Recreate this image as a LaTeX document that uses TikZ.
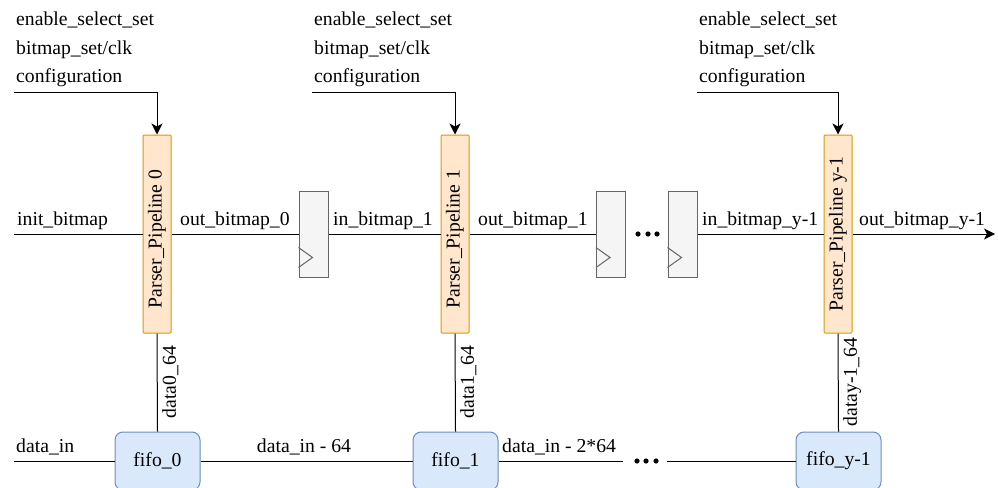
\documentclass[tikz,border=0pt]{standalone}
\usepackage{fontspec}
\setmainfont{Liberation Serif}
\usetikzlibrary{arrows.meta,calc}
\definecolor{pipefill}{HTML}{FFE6CC}
\definecolor{pipedraw}{HTML}{D79B00}
\definecolor{fifofill}{HTML}{DAE8FC}
\definecolor{fifodraw}{HTML}{6C8EBF}
\definecolor{regfill}{HTML}{F5F5F5}
\definecolor{regdraw}{HTML}{666666}
\begin{document}
\begin{tikzpicture}[x=1pt,y=-1pt,
  every node/.style={font=\fontsize{19.7}{24}\selectfont},
  wire/.style={line width=1pt,draw=black},
  arr/.style={wire,-{Stealth[length=11pt,width=11pt,inset=3pt]}},
  pipe/.style={draw=pipedraw,fill=pipefill,line width=1pt,rounded corners=1pt,
    minimum width=28pt,minimum height=198pt,inner sep=0pt},
  reg/.style={draw=regdraw,fill=regfill,line width=1pt,
    minimum width=29pt,minimum height=86pt,inner sep=0pt},
  fifo/.style={draw=fifodraw,fill=fifofill,line width=1pt,rounded corners=8pt,
    minimum width=85pt,minimum height=58pt,inner sep=0pt},
  lbl/.style={inner sep=0pt,anchor=base west},
  vlbl/.style={inner sep=1pt,anchor=west}
]
\useasboundingbox (0,0) rectangle (998,487);

% pipeline stages
\node[pipe] (p0) at (157,234) {\rotatebox{90}{Parser\_Pipeline 0\hspace{10pt}}};
\node[pipe] (p1) at (455,234) {\rotatebox{90}{Parser\_Pipeline 1\hspace{10pt}}};
\node[pipe] (p2) at (838,234) {\rotatebox{90}{Parser\_Pipeline y-1}};

% registers between stages
\node[reg] (ff0) at (313.5,234) {};
\node[reg] (ff1) at (611,234) {};
\node[reg] (ff2) at (682.5,234) {};
\foreach \r in {ff0,ff1,ff2}{
  \draw[draw=regdraw,line width=1pt] ($(\r.south west)+(0,-10)$) -- ($(\r.south west)+(14,-20)$) -- ($(\r.south west)+(0,-30)$);
}

% fifos
\node[fifo] (f0) at (157.5,461) {fifo\_0};
\node[fifo] (f1) at (455.5,461) {fifo\_1};
\node[fifo] (f2) at (838.5,461) {fifo\_y-1};

% bitmap chain
\coordinate (bin) at (14,234);
\coordinate (bout) at (995,234);
\draw[wire] (bin) -- (p0.west);
\draw[wire] (p0.east) -- (ff0.west);
\draw[wire] (ff0.east) -- (p1.west);
\draw[wire] (p1.east) -- (ff1.west);
\draw[wire] (ff2.east) -- (p2.west);
\draw[arr] (p2.east) -- (bout);
\foreach \x in {638,648,657} \fill (\x,234) circle (2.6);

\node[lbl] (l0) at (17,225) {init\_bitmap};
\node[lbl] (l1) at (180,225) {out\_bitmap\_0};
\node[lbl] (l2) at (333,225) {in\_bitmap\_1};
\node[lbl] (l3) at (478,225) {out\_bitmap\_1};
\node[lbl] (l4) at (702,225) {in\_bitmap\_y-1};
\node[lbl] (l5) at (859,225) {out\_bitmap\_y-1};

% control inputs
\foreach \gx/\p/\n in {16/p0/a,314/p1/b,699/p2/c}{
  \node[lbl] (c\n1) at (\gx,26) {enable\_select\_set};
  \node[lbl] (c\n2) at (\gx,55) {bitmap\_set/clk};
  \node[lbl] (c\n3) at (\gx,82) {configuration};
  \coordinate (cs\n) at (\gx-2,92);
  \draw[arr] (cs\n) -- (cs\n -| \p.north) -- (\p.north);
}

% data path
\coordinate (din) at (14,461);
\coordinate (gapL) at (623,461);
\coordinate (gapR) at (667,461);
\draw[wire] (din) -- (f0.west);
\draw[wire] (f0.east) -- (f1.west);
\draw[wire] (f1.east) -- (gapL);
\draw[wire] (gapR) -- (f2.west);
\foreach \x in {637,646,656} \fill (\x,461) circle (2.6);

\node[lbl] (d0) at (16,452) {data\_in};
\node[inner sep=0pt,anchor=base] (d1) at (304,452) {data\_in - 64};
\node[lbl] (d2) at (502,452) {data\_in - 2*64};

% stage data taps
\draw[wire] (p0.south) -- (f0.north);
\draw[wire] (p1.south) -- (f1.north);
\draw[wire] (p2.south) -- (f2.north);
\node[vlbl] (t0) at (161,382) {\rotatebox{90}{data0\_64}};
\node[vlbl] (t1) at (459,382) {\rotatebox{90}{data1\_64}};
\node[vlbl] (t2) at (842,382) {\rotatebox{90}{datay-1\_64}};
\end{tikzpicture}
\end{document}
